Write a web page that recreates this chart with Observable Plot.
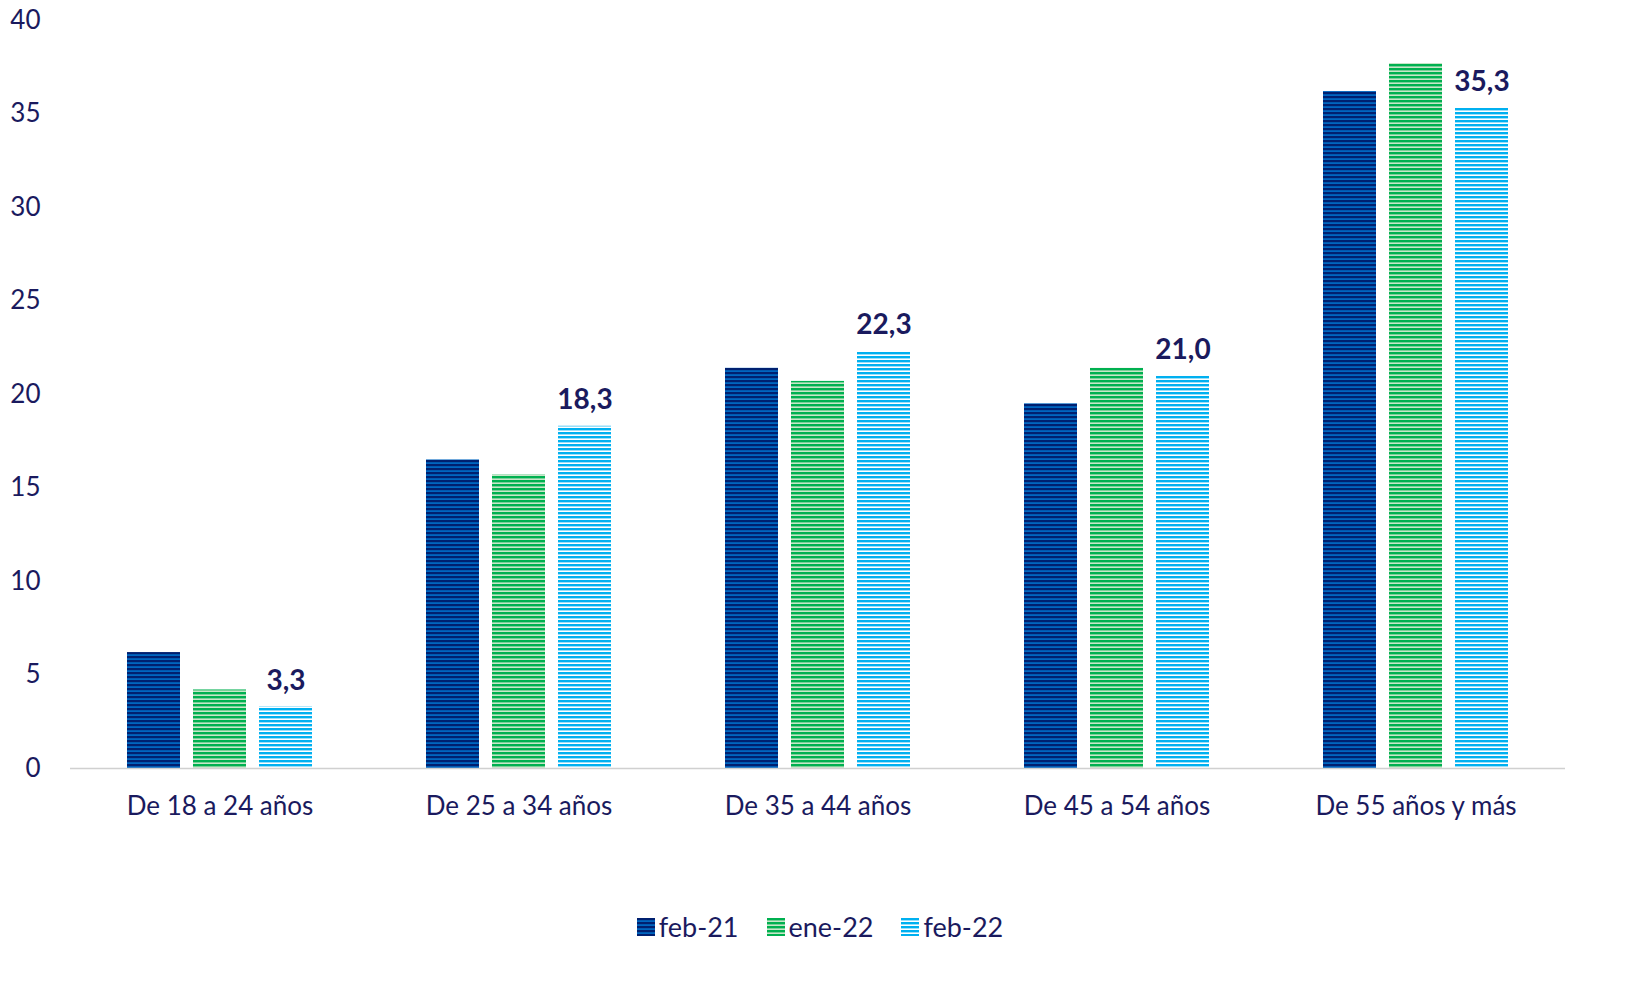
<!DOCTYPE html>
<html><head><meta charset="utf-8">
<script src="https://cdn.jsdelivr.net/npm/d3@7"></script>
<script src="https://cdn.jsdelivr.net/npm/@observablehq/plot@0.6"></script>
<style>
body{margin:0;background:#fff;font-family:Lato,sans-serif;}
#legend{display:flex;justify-content:center;gap:28px;font-size:27px;color:#1a1a5e;margin-top:50px;padding-left:0px}
#legend span{display:flex;align-items:center;gap:4px}
#legend i{display:inline-block;width:18px;height:18px}
</style></head><body>
<svg width="0" height="0" style="position:absolute">
<defs>
<pattern id="p0" width="4" height="4" patternUnits="userSpaceOnUse"><rect width="4" height="4" fill="#0066c0"/><rect width="4" height="2.2" fill="#002070"/></pattern>
<pattern id="p1" width="4" height="4" patternUnits="userSpaceOnUse"><rect width="4" height="4" fill="#c8e6c8"/><rect width="4" height="2.4" fill="#00b050"/></pattern>
<pattern id="p2" width="4" height="4" patternUnits="userSpaceOnUse"><rect width="4" height="4" fill="#ffffff"/><rect width="4" height="2.4" fill="#00b0f0"/></pattern>
</defs></svg>
<div id="chart"></div>
<div id="legend"></div>
<script>
const categories = ["De 18 a 24 años","De 25 a 34 años","De 35 a 44 años","De 45 a 54 años","De 55 años y más"];
const series = ["feb-21","ene-22","feb-22"];
const feb21 = [6.2,16.5,21.4,19.5,36.2];
const ene22 = [4.2,15.7,20.7,21.4,37.7];
const feb22 = [3.3,18.3,22.3,21.0,35.3];
const yTicks = [0,5,10,15,20,25,30,35,40];
const patterns = ["url(#p0)","url(#p1)","url(#p2)"];
const vals = [feb21, ene22, feb22];
const data = [];
categories.forEach((c,i)=>series.forEach((s,j)=>data.push({cat:c, s, v:vals[j][i]})));
const navy = "#1a1a5e";
const chart = Plot.plot({
  width:1640, height:860,
  marginLeft:70, marginRight:75, marginTop:20, marginBottom:92,
  style:{fontFamily:"Lato, sans-serif", color:navy, fontSize:"26px"},
  fx:{domain:categories, padding:0, label:null, axis:"bottom", tickSize:0, tickPadding:28},
  x:{domain:series, paddingInner:0.2, paddingOuter:0.865, axis:null},
  y:{domain:[0,40], ticks:yTicks, label:null, tickSize:0, tickPadding:30},
  marks:[
    ...series.map((s,j)=>Plot.barY(data.filter(d=>d.s===s),{fx:"cat",x:"s",y:"v",fill:patterns[j]})),
    Plot.ruleY([0],{stroke:"#d0d0d0",strokeWidth:1.5}),
    Plot.text(data.filter(d=>d.s==="feb-22"),{fx:"cat",x:"s",y:"v",text:d=>d.v.toFixed(1).replace(".",","),dy:-26,fontWeight:"bold",fontSize:28,fill:navy})
  ]
});
document.getElementById("chart").append(chart);
const leg = document.getElementById("legend");
series.forEach((s,j)=>{leg.insertAdjacentHTML("beforeend",`<span><svg width="18" height="18"><rect width="18" height="18" fill="${patterns[j]}"/></svg>${s}</span>`)});
</script></body></html>
